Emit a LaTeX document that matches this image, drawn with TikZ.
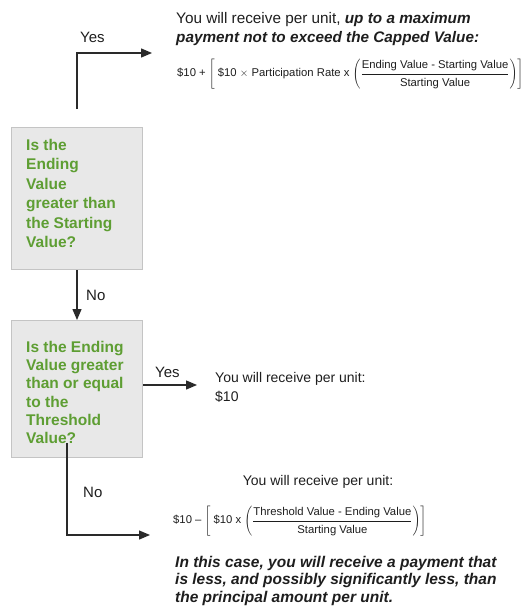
\documentclass[tikz,border=0pt]{standalone}
\usepackage{fontspec}
\setmainfont{Liberation Sans}
\usetikzlibrary{arrows.meta}
\definecolor{qgreen}{HTML}{5E9E33}
\definecolor{boxfill}{HTML}{E8E8E8}
\definecolor{boxline}{HTML}{C4C4C4}
\definecolor{ink}{HTML}{1E1E1E}
\definecolor{lineink}{HTML}{2A2A2A}
\newcommand{\numstrut}{\rule[-3.5pt]{0pt}{3.5pt}}
\newcommand{\denstrut}{\rule{0pt}{11.5pt}}
\begin{document}
\begin{tikzpicture}[x=1pt,y=-1pt,
  qbox/.style={draw=boxline, fill=boxfill, line width=1pt, inner sep=0, anchor=north west},
  qtext/.style={text=qgreen, font=\fontsize{15.5}{19.4}\selectfont\bfseries, align=left, inner sep=0, anchor=north west},
  qtextb/.style={qtext, font=\fontsize{15.5}{18.2}\selectfont\bfseries},
  lbl/.style={text=ink, font=\fontsize{15}{18}\selectfont, inner sep=0, anchor=base west},
  bodytext/.style={text=ink, font=\fontsize{15.3}{19}\selectfont, align=left, inner sep=0, anchor=north west},
  midtext/.style={text=ink, font=\fontsize{14}{19}\selectfont, align=left, inner sep=0, anchor=north west},
  formula/.style={text=ink, font=\fontsize{11.3}{13}\selectfont, inner sep=0, anchor=west},
  conn/.style={draw=lineink, line width=1.3pt, -{Triangle[length=11pt,width=9pt]}}
]
\useasboundingbox (0,0) rectangle (522,608);

% decision boxes
\node[qbox, minimum width=131, minimum height=142] (b1) at (11,127) {};
\node[qtext] (t1) at (26,139) {Is the\\Ending\\Value\\greater than\\the Starting\\Value?};
\node[qbox, minimum width=131, minimum height=137] (b2) at (11,320) {};
\node[qtextb] (t2) at (26,341) {Is the Ending\\Value greater\\than or equal\\to the\\Threshold\\Value?};

% top outcome
\node[bodytext] (r1) at (176,12.5) {You will receive per unit, \textbf{\textit{up to a maximum}}\\\textbf{\textit{payment not to exceed the Capped Value:}}};
\node[formula] (f1) at (177,74) {\$10 + $\displaystyle\Bigg[\mbox{ \$10 $\times$ Participation Rate x }\Bigg(\frac{\mbox{Ending Value - Starting Value}\numstrut}{\denstrut\mbox{Starting Value}}\Bigg)\Bigg]$};

% middle outcome
\node[midtext] (r2) at (215,372) {You will receive per unit:\\\$10};

% bottom outcome
\node[text=ink, font=\fontsize{14}{17}\selectfont, inner sep=0, anchor=base] (r3) at (318,485) {You will receive per unit:};
\node[formula] (f2) at (173,521) {\$10 -- $\displaystyle\Bigg[\mbox{ \$10 x }\Bigg(\frac{\mbox{Threshold Value - Ending Value}\numstrut}{\denstrut\mbox{Starting Value}}\Bigg)\Bigg]$};
\node[text=ink, font=\fontsize{15.5}{17.5}\selectfont\bfseries\itshape, align=left, inner sep=0, anchor=north west] (r4) at (175,556) {In this case, you will receive a payment that\\is less, and possibly significantly less, than\\the principal amount per unit.};

% labels
\node[lbl] (yes1) at (80,42) {Yes};
\node[lbl] (no1) at (86,300) {No};
\node[lbl] (yes2) at (155,377) {Yes};
\node[lbl] (no2) at (83,497) {No};

% connectors
\coordinate (y1s) at (77,109);
\coordinate (y1e) at (152,53);
\draw[conn] (y1s) |- (y1e);
\draw[conn] (b1.south) -- (b2.north);
\coordinate (y2e) at (197,385);
\draw[conn] (b2.east |- y2e) -- (y2e);
\coordinate (n2s) at (67,443);
\coordinate (n2e) at (150,535);
\draw[conn] (n2s) |- (n2e);
\end{tikzpicture}
\end{document}
